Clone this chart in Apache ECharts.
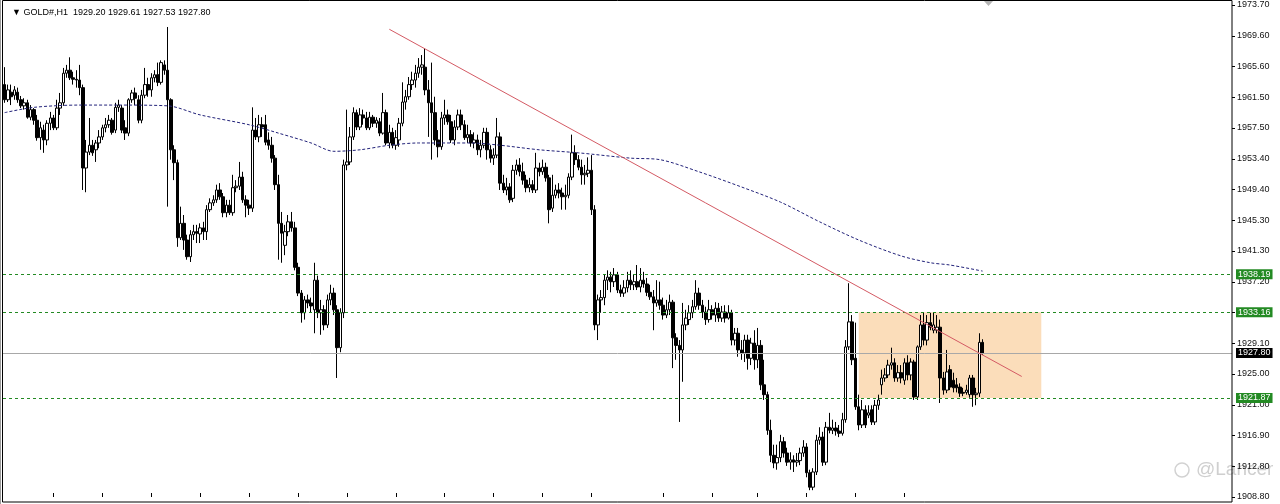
<!DOCTYPE html>
<html><head><meta charset="utf-8">
<script src="https://cdn.jsdelivr.net/npm/echarts@6/dist/echarts.min.js"></script>
<style>html,body{margin:0;padding:0;background:#fff}#c{width:1280px;height:504px}</style>
</head><body><div id="c"></div>
<script>
const symbol = 'GOLD#,H1';
// candles: [open, close, low, high]
const candlesA = [
[1963.2,1961.2,1960.8,1965.5],[1961.2,1962.5,1960.9,1963.2],[1962.2,1961.6,1960.5,1963.2],[1961.8,1962.5,1961.2,1963.0],
[1962.2,1961.2,1960.8,1962.8],[1961.2,1960.4,1960.1,1961.7],[1960.4,1960.8,1959.9,1961.4],[1960.8,1958.9,1958.7,1961.2],
[1958.9,1959.9,1958.5,1960.5],[1959.9,1958.5,1957.9,1960.1],[1958.5,1956.2,1955.8,1959.2],[1956.2,1957.5,1954.6,1958.3],
[1957.2,1955.9,1954.2,1957.9],[1955.9,1958.1,1955.2,1958.5],[1958.1,1958.8,1957.2,1959.6],[1958.8,1957.5,1957.2,1959.2],
[1957.5,1960.1,1957.2,1961.2],[1960.1,1960.8,1959.2,1962.1],[1960.8,1964.7,1960.4,1965.4],[1964.7,1965.1,1964.1,1965.8],
[1965.1,1964.1,1963.8,1966.8],[1964.1,1963.9,1963.2,1964.9],[1963.9,1963.8,1962.8,1965.1],[1963.8,1962.8,1961.8,1965.8],
[1962.8,1952.2,1949.3,1963.2],[1952.2,1954.3,1949.0,1955.9],[1954.3,1955.2,1953.9,1958.8],[1955.2,1954.2,1953.8,1955.9],
[1954.6,1955.5,1953.0,1955.9],[1955.5,1956.3,1954.8,1957.2],[1956.3,1957.5,1955.9,1957.9],[1957.5,1957.9,1956.9,1958.8],
[1957.9,1958.5,1957.5,1959.2],[1958.5,1956.9,1956.6,1958.8],[1957.2,1960.2,1956.8,1960.8],[1960.2,1960.5,1959.6,1961.2],
[1960.1,1957.2,1956.8,1960.5],[1957.5,1956.8,1955.9,1958.5],[1956.8,1961.2,1956.4,1961.4],[1961.2,1962.1,1960.8,1962.5],
[1962.1,1961.4,1960.5,1962.8],[1961.2,1958.5,1958.1,1961.8],[1958.5,1961.8,1958.1,1962.5],[1961.8,1963.2,1961.4,1965.4],
[1963.2,1962.5,1961.6,1964.1],[1962.5,1964.1,1961.6,1964.7],[1964.1,1964.5,1963.5,1965.1],[1964.5,1963.5,1963.0,1966.1],
[1963.5,1966.1,1963.2,1966.4],[1965.8,1965.1,1964.5,1966.4]
];
const candlesB = [
[1965.1,1961.2,1947.1,1970.8],[1961.2,1954.6,1953.3,1961.4],[1954.6,1952.9,1950.6,1955.2],[1952.9,1943.0,1941.8,1953.3],
[1943.0,1944.9,1942.7,1947.1],[1944.9,1942.7,1941.4,1946.0],[1942.7,1940.5,1940.1,1943.4],[1940.5,1943.4,1939.8,1944.0],
[1943.4,1943.8,1942.7,1944.7],[1943.8,1943.6,1942.3,1944.7],[1943.5,1944.3,1942.3,1944.9],[1944.3,1943.8,1942.7,1945.1],
[1943.8,1946.7,1942.7,1947.3],[1946.7,1947.6,1946.4,1948.2],[1947.6,1948.0,1947.2,1948.6],[1948.0,1949.3,1947.6,1950.0],
[1949.3,1948.4,1948.0,1950.2],[1948.4,1946.3,1945.7,1948.9],[1946.3,1947.3,1945.7,1948.0],[1947.3,1946.3,1946.0,1948.0],
[1946.3,1949.6,1945.9,1951.3],[1949.6,1949.8,1949.0,1950.6],[1949.8,1951.0,1949.3,1953.0],[1951.0,1948.0,1947.6,1951.7],
[1948.0,1947.3,1945.7,1948.6],[1947.3,1946.9,1946.0,1948.0],[1946.9,1957.2,1946.4,1960.2],[1957.2,1956.3,1955.9,1958.8],
[1956.3,1957.9,1955.6,1959.2],[1957.9,1957.6,1956.3,1958.9],[1957.9,1955.6,1955.2,1959.2],[1955.9,1955.2,1954.6,1956.9],
[1955.2,1953.5,1952.9,1956.3],[1953.5,1950.0,1949.3,1953.9],[1950.0,1944.9,1940.1,1951.3],[1944.9,1943.6,1939.7,1946.4],
[1942.0,1943.8,1940.7,1944.7],[1943.8,1945.1,1943.2,1946.0],[1945.1,1944.3,1943.8,1946.4],[1944.3,1939.1,1938.7,1945.1],
[1939.1,1935.7,1935.3,1939.7],[1935.7,1933.1,1931.8,1936.1],[1933.1,1934.8,1932.2,1935.3],[1934.8,1934.4,1933.7,1935.5],
[1934.4,1934.0,1933.2,1935.1],[1933.5,1937.4,1930.4,1939.7],[1937.4,1933.1,1932.4,1938.0],[1933.1,1933.5,1930.2,1934.8],
[1933.5,1931.5,1930.8,1934.1],[1931.5,1934.8,1931.1,1935.5],[1934.8,1935.7,1934.1,1936.8],[1935.7,1933.5,1932.8,1936.4],
[1933.5,1928.5,1924.5,1934.1],[1928.5,1933.1,1927.9,1933.7]
];
const candlesC = [
[1933.1,1952.6,1932.4,1953.3],[1952.6,1953.0,1951.9,1959.9],[1953.0,1956.3,1952.6,1957.6],[1956.3,1959.5,1955.9,1960.2],
[1959.5,1957.6,1957.2,1959.9],[1957.6,1959.2,1957.2,1960.1],[1959.2,1958.8,1957.9,1959.9],[1958.8,1957.5,1957.2,1959.6],
[1957.5,1958.9,1957.2,1959.6],[1958.9,1958.1,1957.6,1959.2],[1958.1,1958.5,1957.5,1958.9],[1958.3,1956.8,1956.4,1958.8],
[1956.8,1959.5,1956.6,1962.1],[1959.5,1955.5,1955.2,1959.9],[1955.5,1956.9,1954.8,1957.9],[1956.9,1955.2,1954.8,1957.5],
[1955.2,1956.2,1954.6,1957.2],[1955.9,1958.1,1955.0,1958.8],[1958.1,1960.9,1957.7,1963.5],[1960.9,1961.6,1959.9,1962.5],
[1961.6,1963.2,1961.2,1964.2],[1963.2,1963.8,1962.5,1964.9],[1963.8,1964.7,1962.8,1965.8],[1964.7,1965.5,1964.1,1966.7],
[1965.5,1965.8,1964.5,1967.1],[1965.5,1962.5,1961.8,1968.0],[1962.5,1960.8,1956.3,1963.8],[1960.8,1959.5,1953.3,1966.1],
[1959.5,1955.9,1955.2,1961.6],[1955.9,1955.0,1953.6,1957.2],[1955.0,1958.8,1954.6,1959.6],[1958.8,1959.2,1957.9,1961.2],
[1959.2,1958.3,1957.9,1959.9],[1958.3,1955.9,1955.5,1959.2],[1955.9,1957.6,1955.2,1958.5],[1957.6,1959.2,1957.2,1959.9],
[1959.2,1957.9,1957.2,1959.9],[1957.9,1956.2,1955.9,1958.5],[1956.2,1956.6,1955.5,1957.9],[1956.6,1955.5,1955.0,1957.2],
[1955.5,1955.9,1954.8,1956.9],[1955.9,1954.6,1953.9,1956.6],[1954.6,1955.2,1953.6,1955.9],[1955.2,1956.9,1954.8,1957.5],
[1956.9,1954.6,1953.3,1957.5],[1954.6,1953.5,1952.9,1955.2],[1953.5,1953.9,1952.6,1954.8],[1953.9,1956.3,1953.5,1958.8],
[1956.3,1950.2,1949.3,1956.9],[1950.2,1949.3,1948.9,1951.3],[1949.3,1949.7,1948.6,1950.9],[1949.7,1948.0,1947.6,1950.2],
[1948.2,1951.9,1947.7,1952.6],[1951.9,1952.6,1951.3,1953.3],[1952.6,1951.7,1951.1,1953.5],[1951.7,1950.6,1950.0,1952.9],
[1950.6,1949.6,1949.0,1951.3],[1949.6,1950.0,1949.0,1950.9],[1950.0,1949.3,1948.9,1950.6],[1949.3,1952.2,1948.9,1954.2],
[1952.2,1951.7,1951.1,1952.9],[1951.7,1952.3,1951.3,1953.3],[1952.3,1950.9,1950.4,1952.9],[1950.9,1946.7,1944.9,1951.3],
[1946.9,1948.6,1946.4,1951.3],[1948.6,1949.3,1948.2,1950.0],[1949.3,1948.9,1948.2,1950.2],[1948.9,1948.4,1946.7,1949.6],
[1948.4,1948.6,1946.7,1950.0],[1948.6,1951.0,1948.2,1951.5],[1951.0,1954.2,1950.6,1956.6],[1954.2,1953.3,1952.6,1955.2],
[1953.3,1952.3,1951.9,1953.9],[1952.3,1951.3,1950.0,1953.3],[1951.3,1951.5,1950.0,1952.6],[1951.5,1951.9,1951.0,1953.6],
[1951.9,1946.7,1946.0,1953.9]
];
const candlesD = [
[1946.7,1931.5,1930.8,1947.3],[1931.5,1934.8,1929.5,1935.5],[1934.8,1935.1,1933.1,1936.1],[1935.1,1937.4,1934.1,1938.1],
[1937.4,1937.8,1936.1,1938.7],[1937.8,1937.2,1935.8,1938.5],[1937.2,1938.1,1936.5,1939.0],[1938.1,1936.1,1935.7,1938.5],
[1936.1,1935.7,1935.2,1936.8],[1935.7,1936.4,1935.2,1937.4],[1936.4,1937.4,1935.8,1938.5],[1937.4,1936.8,1936.1,1938.7],
[1936.8,1937.2,1936.1,1938.1],[1937.2,1936.5,1936.1,1939.4],[1936.5,1937.4,1935.8,1939.0],[1937.4,1936.9,1936.4,1938.5],
[1936.9,1935.8,1935.3,1937.7],[1935.8,1935.2,1934.8,1936.8],[1935.2,1934.4,1930.8,1936.1],[1934.4,1934.8,1933.9,1937.4],
[1934.8,1934.1,1933.5,1937.2],[1934.1,1932.8,1932.2,1935.1],[1932.8,1933.5,1932.4,1934.8],[1933.5,1934.5,1932.8,1935.5],
[1934.5,1929.8,1925.8,1934.8],[1929.8,1928.8,1926.9,1930.4],[1928.8,1928.2,1918.7,1929.5],[1928.2,1931.5,1924.0,1934.4],
[1931.5,1932.4,1930.8,1933.5],[1932.2,1933.1,1931.5,1934.1],[1933.1,1933.9,1932.4,1934.8],[1933.9,1935.7,1933.5,1937.4],
[1935.7,1934.1,1933.5,1936.4],[1934.1,1933.2,1932.4,1934.8],[1933.2,1932.2,1931.5,1933.9],[1932.2,1933.5,1931.8,1934.8],
[1933.5,1932.8,1932.2,1934.1],[1932.8,1933.7,1931.9,1934.5],[1933.7,1932.4,1931.9,1934.4],[1932.4,1933.2,1931.9,1934.0],
[1933.2,1932.4,1931.8,1934.1],[1932.4,1933.1,1932.2,1934.1],[1933.1,1929.5,1928.8,1933.5],[1929.5,1930.4,1928.8,1931.1],
[1930.4,1928.2,1927.3,1931.1],[1928.2,1927.8,1926.9,1929.5],[1927.8,1929.5,1926.6,1930.2],[1929.5,1927.1,1925.6,1930.2],
[1927.1,1929.1,1926.2,1929.8],[1929.1,1926.9,1925.6,1930.8],[1926.9,1928.8,1925.8,1931.1],[1928.8,1923.6,1922.9,1929.5],
[1923.6,1922.3,1921.6,1926.9],[1922.3,1917.6,1917.0,1922.7],[1917.6,1914.3,1913.4,1919.0],[1914.3,1913.3,1912.6,1915.7],
[1913.3,1914.0,1912.4,1915.7],[1914.0,1916.1,1913.4,1917.0],[1916.1,1914.6,1914.0,1916.7],[1914.6,1913.4,1912.9,1915.3],
[1913.4,1913.7,1912.4,1914.7],[1913.7,1913.4,1912.1,1914.3],[1913.4,1913.6,1912.8,1914.6],[1913.6,1914.6,1913.0,1915.3],
[1914.6,1915.4,1914.1,1916.3],[1915.4,1912.0,1911.4,1915.9],[1912.0,1910.1,1909.7,1912.4],[1910.1,1912.1,1909.7,1912.6],
[1912.1,1916.3,1911.7,1917.0],[1916.3,1916.7,1915.7,1918.0],[1916.7,1913.4,1912.9,1917.4],[1913.4,1918.0,1913.0,1918.7],
[1918.0,1917.6,1917.2,1919.9],[1917.6,1917.9,1917.1,1919.0],[1917.9,1917.5,1916.9,1918.7],[1917.5,1917.2,1916.7,1918.3],
[1917.2,1919.0,1916.9,1919.9],[1919.0,1928.6,1918.6,1929.5],[1928.6,1931.9,1928.2,1937.0],[1931.9,1926.9,1926.2,1932.8],
[1927.1,1920.7,1920.3,1931.8],[1920.7,1918.3,1917.6,1922.3],[1918.3,1920.3,1917.9,1921.6],[1920.3,1918.3,1917.9,1920.9],
[1919.6,1919.9,1919.2,1920.9],[1920.3,1918.7,1918.3,1920.9],[1918.7,1920.9,1918.3,1921.6],[1920.9,1921.6,1920.3,1922.3]
];
const candlesE = [
[1923.6,1924.5,1922.3,1925.6],[1924.5,1924.9,1924.0,1925.8],[1924.9,1926.2,1924.5,1926.9],[1926.2,1926.5,1925.6,1928.5],
[1926.5,1924.5,1924.0,1927.1],[1924.5,1925.2,1924.0,1926.2],[1925.2,1924.5,1923.8,1926.2],[1924.2,1926.5,1923.6,1927.1],
[1926.5,1924.9,1924.2,1927.5],[1924.9,1926.6,1924.2,1927.1],[1926.6,1922.0,1921.6,1926.9],[1922.0,1928.6,1921.6,1928.8],
[1928.6,1931.5,1928.2,1932.8],[1931.5,1929.5,1928.8,1933.2],[1929.5,1931.8,1928.8,1932.8],[1931.8,1931.2,1930.8,1933.1],
[1930.8,1931.5,1930.4,1933.1],[1930.8,1931.2,1930.4,1932.8],[1931.2,1924.5,1921.2,1932.2],[1924.5,1922.9,1922.3,1925.3],
[1922.9,1925.3,1922.5,1928.2],[1925.6,1923.3,1922.9,1926.2],[1924.2,1923.2,1922.6,1925.2],[1923.6,1923.2,1922.6,1924.5],
[1923.3,1922.5,1922.0,1923.8],[1922.6,1922.5,1922.1,1923.2],[1922.6,1922.9,1922.3,1923.6],[1922.3,1924.5,1921.9,1924.9],
[1924.5,1922.3,1920.7,1924.9],[1922.3,1922.5,1920.9,1923.2],[1922.5,1929.2,1922.0,1930.4],[1929.20,1927.80,1927.53,1929.61]
];
// moving average: [barIndex, value]
const maPoints = [
[0,1959.5],[9,1960.2],[23,1960.5],[35,1960.5],[50,1960.4],[60,1959.2],[75,1957.9],[84,1956.8],[94,1955.5],
[101,1954.4],[109,1954.6],[118,1955.2],[127,1955.5],[143,1955.5],[152,1955.2],[164,1954.6],[176,1954.2],
[192,1953.5],[201,1953.3],[213,1951.7],[226,1949.7],[238,1947.7],[250,1945.1],[262,1942.7],[275,1940.6],
[284,1939.7],[290,1939.4],[300,1938.6]
];
const trendStart = [118, 1970.5];
const trendEnd = [312, 1924.7];
const levels = [1938.19, 1933.16, 1921.87];
const bidPrice = 1927.80;
const boxFrom = [262, 1933.16];
const boxTo = [318, 1921.87];
const priceTicks = ['1908.80','1912.80','1916.90','1921.00','1925.00','1929.10','1933.10','1937.20','1941.30',
  '1945.30','1949.40','1953.40','1957.50','1961.50','1965.60','1969.60','1973.70'];
const timeTickBars = [15,30,45,60,75,90,105,120,135,150,165,180,202,217,231,246,261,276];
const emptyBars = 76;
const watermark = '@Lancer';

const candles = [].concat(candlesA, candlesB, candlesC, candlesD, candlesE);
const categories = [];
for (let i = 0; i < candles.length + emptyBars; i++) categories.push(String(i));
const last = candles[candles.length - 1];
const header = '\u25BC ' + symbol + '  ' + [last[0], last[3], last[2], last[1]].map(v => v.toFixed(2)).join(' ');

const FONT = 'Liberation Sans';
const green = '#238a23';
const chart = echarts.init(document.getElementById('c'), null, {renderer: 'canvas'});
chart.setOption({
  animation: false,
  backgroundColor: '#ffffff',
  title: {text: header, left: 7, top: 3, textStyle: {fontSize: 9, fontWeight: 'normal', color: '#000', fontFamily: FONT}},
  grid: {left: 3, right: 48, top: 5, bottom: 7},
  xAxis: {
    type: 'category', data: categories, boundaryGap: true, offset: 5,
    axisLine: {show: false},
    axisTick: {show: true, alignWithLabel: true, inside: true, length: 4,
      interval: (i) => timeTickBars.indexOf(i) >= 0, lineStyle: {color: '#000'}},
    axisLabel: {show: false}, splitLine: {show: false}
  },
  yAxis: [
    {type: 'value', min: 1908.8, max: 1973.7, show: false, splitLine: {show: false}},
    {type: 'value', min: 0, max: 16, interval: 1, position: 'right',
      axisLine: {show: false},
      axisTick: {show: true, length: 3, lineStyle: {color: '#000'}},
      axisLabel: {formatter: (v) => priceTicks[Math.round(v)] || '', fontSize: 9, color: '#111', margin: 5, fontFamily: FONT},
      splitLine: {show: false}}
  ],
  graphic: [
    {type: 'rect', silent: true, shape: {x: 2.5, y: 0.5, width: 1229.5, height: 501.5}, style: {fill: null, stroke: '#000', lineWidth: 1}, z: 100},
    {type: 'line', silent: true, shape: {x1: 0.5, y1: 0, x2: 0.5, y2: 504}, style: {stroke: '#9a9a9a', lineWidth: 1}},
    {type: 'polygon', silent: true, shape: {points: [[984, 1], [993, 1], [988.5, 6]]}, style: {fill: '#b4b4b4'}},
    {type: 'circle', silent: true, shape: {cx: 1182, cy: 470, r: 7}, style: {fill: null, stroke: '#d2d2d2', lineWidth: 1.5}},
    {type: 'text', silent: true, x: 1196, y: 460, style: {text: watermark, fill: '#cfcfcf', font: '19px ' + FONT}}
  ],
  series: [
    {
      type: 'candlestick', data: candles, yAxisIndex: 0, barWidth: 3, z: 3,
      itemStyle: {color: '#ffffff', color0: '#000000', borderColor: '#000000', borderColor0: '#000000', borderWidth: 1},
      markArea: {silent: true, itemStyle: {color: '#FBDDBA'}, data: [[{coord: boxFrom}, {coord: boxTo}]]},
      markLine: {
        silent: true, symbol: ['none', 'none'],
        data: [
          ...levels.map(v => ({yAxis: v, lineStyle: {color: green, type: [3, 3], width: 1},
            label: {show: true, position: 'end', distance: 4, formatter: v.toFixed(2), color: '#fff', backgroundColor: green,
              fontSize: 9, fontFamily: FONT, padding: [1, 2, 0, 2]}})),
          {yAxis: bidPrice, lineStyle: {color: '#a8a8a8', type: 'solid', width: 1},
            label: {show: true, position: 'end', distance: 4, formatter: bidPrice.toFixed(2), color: '#fff', backgroundColor: '#000',
              fontSize: 9, fontFamily: FONT, padding: [1, 2, 0, 2]}},
          [{coord: trendStart, lineStyle: {color: '#d45a64', type: 'solid', width: 1}, label: {show: false}}, {coord: trendEnd}]
        ]
      }
    },
    {
      type: 'line', data: maPoints, yAxisIndex: 0, smooth: 0.3, showSymbol: false, z: 4,
      lineStyle: {color: '#22227a', width: 1, type: [3, 2]}
    }
  ]
});
</script></body></html>
